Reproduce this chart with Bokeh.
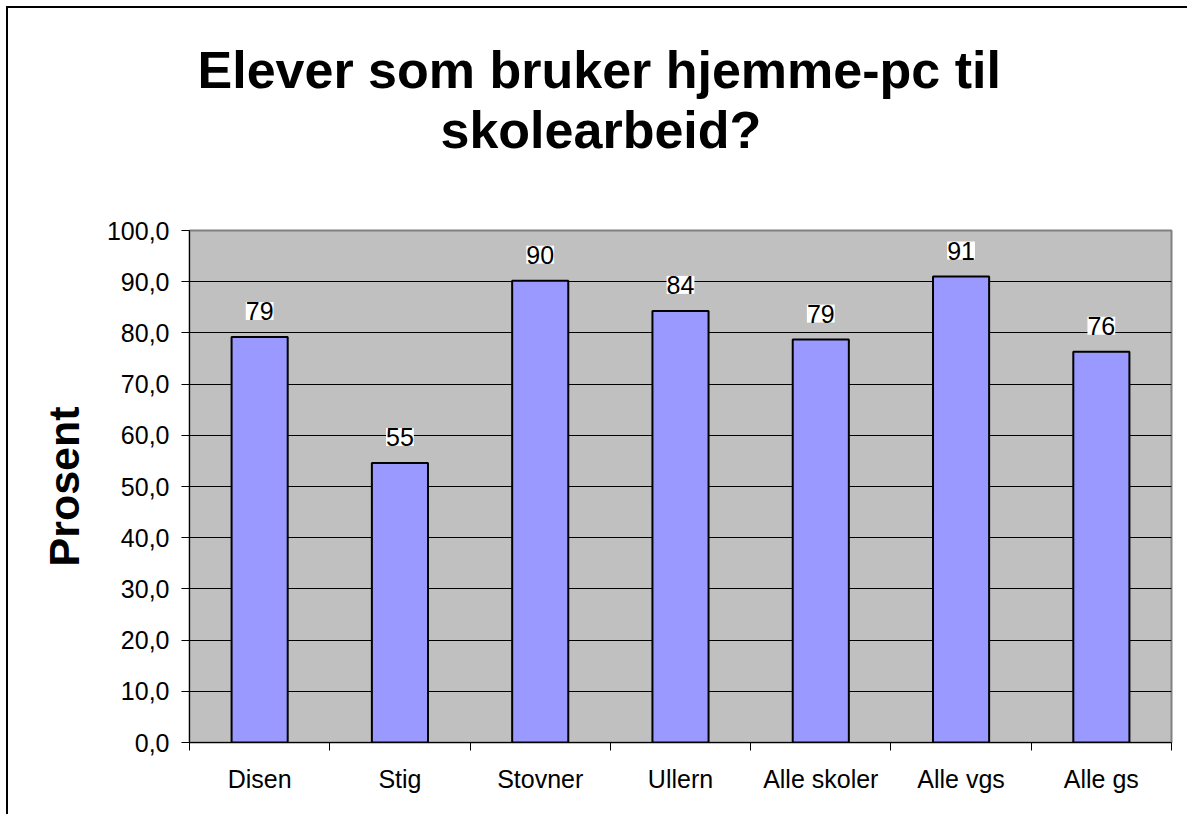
from bokeh.plotting import figure
from bokeh.models import ColumnDataSource, LabelSet, Title, FixedTicker, Range1d
from bokeh.core.properties import value
from bokeh.embed import file_html
from bokeh.resources import INLINE

categories = ["Disen", "Stig", "Stovner", "Ullern", "Alle skoler", "Alle vgs", "Alle gs"]
values = [79.2, 54.6, 90.2, 84.3, 78.7, 91.0, 76.3]
value_labels = ["79", "55", "90", "84", "79", "91", "76"]
y_ticks = [0, 10, 20, 30, 40, 50, 60, 70, 80, 90, 100]
y_tick_labels = ["0,0", "10,0", "20,0", "30,0", "40,0", "50,0", "60,0", "70,0", "80,0", "90,0", "100,0"]
title_lines = ["Elever som bruker hjemme-pc til", "skolearbeid?"]
y_label = "Prosent"

FONT = "Liberation Sans"
W, H = 1181, 808

n = len(categories)
xs = [i + 0.5 for i in range(n)]

p = figure(width=W, height=H, output_backend="svg", toolbar_location=None,
           x_range=Range1d(0, n), y_range=Range1d(0, 100),
           min_border_left=181, min_border_right=18, min_border_top=222, min_border_bottom=74,
           background_fill_color="#C0C0C0", border_fill_color="white")
p.styles = {"margin-left": "6px", "margin-top": "6px",
            "border-left": "2px solid black", "border-top": "2px solid black"}

p.outline_line_color = "#808080"
p.outline_line_width = 2

src = ColumnDataSource(dict(x=xs, top=values, label=value_labels))
p.vbar(x="x", top="top", width=0.40, source=src, fill_color="#9999FF",
       line_color="black", line_width=2)

labels = LabelSet(x="x", y="top", text="label", source=src, y_offset=26,
                  text_align="center", text_baseline="middle",
                  text_font=value(FONT), text_font_size="25px", text_color="black",
                  background_fill_color="white")
p.add_layout(labels)

# x axis: category labels at centres, tick marks at boundaries
xa = p.xaxis[0]
xa.ticker = FixedTicker(ticks=xs, minor_ticks=list(range(n + 1)))
xa.major_label_overrides = {x: c for x, c in zip(xs, categories)}
xa.major_tick_line_color = None
xa.major_tick_out = 8
xa.major_tick_in = 0
xa.minor_tick_out = 8
xa.minor_tick_in = 0
xa.minor_tick_line_color = "black"
xa.axis_line_color = "black"
xa.axis_line_width = 1
xa.major_label_text_font = FONT
xa.major_label_text_font_size = "25px"
xa.major_label_text_color = "black"
xa.major_label_standoff = 14

ya = p.yaxis[0]
ya.ticker = FixedTicker(ticks=y_ticks, minor_ticks=[])
ya.major_label_overrides = {t: l for t, l in zip(y_ticks, y_tick_labels)}
ya.major_tick_out = 8
ya.major_tick_in = 0
ya.major_tick_line_color = "black"
ya.axis_line_color = "black"
ya.major_label_text_font = FONT
ya.major_label_text_font_size = "25px"
ya.major_label_text_color = "black"
ya.major_label_standoff = 12
ya.axis_label = y_label
ya.axis_label_text_font = FONT
ya.axis_label_text_font_size = "43px"
ya.axis_label_text_font_style = "bold"
ya.axis_label_text_color = "black"
ya.axis_label_standoff = 16

p.xgrid.grid_line_color = None
p.ygrid.grid_line_color = "black"
p.ygrid.grid_line_width = 1

# two-line title: the line nearest the plot is added first
for line, so, off in zip(reversed(title_lines), [143, -142], [251, 8]):
    p.add_layout(Title(text=line, align="left", offset=off, standoff=so,
                       text_font=FONT, text_font_size="52px", text_font_style="bold",
                       text_color="black"), "above")

open("out.html", "w").write(file_html(p, INLINE))
